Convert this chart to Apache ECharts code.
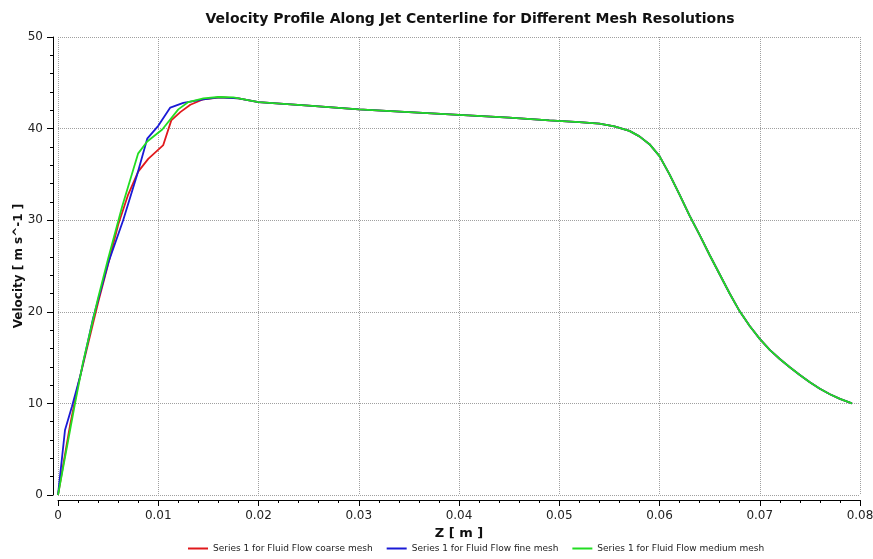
<!DOCTYPE html>
<html>
<head>
<meta charset="utf-8">
<script src="https://cdn.jsdelivr.net/npm/echarts@6/dist/echarts.min.js"></script>
<style>
  html, body { margin: 0; padding: 0; background: #ffffff; }
  #chart { width: 873px; height: 559px; }
</style>
</head>
<body>
<div id="chart"></div>
<script>
// series names
var seriesNames = [
  'Series 1 for Fluid Flow coarse mesh',
  'Series 1 for Fluid Flow fine mesh',
  'Series 1 for Fluid Flow medium mesh'
];

// Z [m], velocity [m s^-1]
var coarseHead = [
  [0, 0], [0.0012, 7.6], [0.002, 12.0], [0.003, 16.5], [0.004, 21.0], [0.005, 25.2],
  [0.006, 29.5], [0.007, 32.8], [0.008, 35.3], [0.009, 36.7], [0.0105, 38.2],
  [0.0113, 40.9], [0.0122, 41.8], [0.0132, 42.6], [0.0145, 43.2], [0.0162, 43.4],
  [0.018, 43.3]
];
var fineHead = [
  [0, 0], [0.0007, 7.1], [0.0014, 9.7], [0.0022, 12.9], [0.0035, 19.3], [0.005, 25.3],
  [0.0065, 30.0], [0.0079, 35.0], [0.0089, 38.9], [0.01, 40.3], [0.0112, 42.3],
  [0.0125, 42.8], [0.0145, 43.2], [0.016, 43.4], [0.018, 43.3]
];
var mediumHead = [
  [0, 0], [0.0017, 10.0], [0.0025, 14.5], [0.004, 21.5], [0.005, 25.8], [0.0064, 31.5],
  [0.008, 37.3], [0.0089, 38.6], [0.0104, 39.9], [0.012, 42.1], [0.013, 42.9],
  [0.0145, 43.3], [0.016, 43.45], [0.0175, 43.4]
];
// common part where the three curves lie on top of each other
var commonTail = [
  [0.02, 42.9], [0.025, 42.5], [0.03, 42.1], [0.035, 41.8], [0.04, 41.5], [0.045, 41.2],
  [0.049, 40.9], [0.052, 40.7], [0.054, 40.55], [0.0555, 40.25], [0.057, 39.75],
  [0.058, 39.15], [0.059, 38.3], [0.06, 37.0], [0.061, 35.0], [0.062, 32.8],
  [0.063, 30.5], [0.064, 28.4], [0.065, 26.2], [0.066, 24.1], [0.067, 22.0],
  [0.068, 20.05], [0.069, 18.45], [0.07, 17.05], [0.071, 15.85], [0.072, 14.85],
  [0.073, 13.95], [0.074, 13.1], [0.075, 12.3], [0.076, 11.6], [0.077, 11.0],
  [0.078, 10.5], [0.0792, 10.0]
];

var colors = ['#e0191c', '#1a1ad6', '#22dd22'];

var chart = echarts.init(document.getElementById('chart'));

function makeSeries(i, head) {
  return {
    name: seriesNames[i],
    type: 'line',
    data: head.concat(commonTail),
    showSymbol: false,
    symbol: 'none',
    lineStyle: { color: colors[i], width: 1.8 },
    itemStyle: { color: colors[i] },
    z: 2 + i
  };
}

var gridLine = { show: true, lineStyle: { color: '#a0a0a0', type: [1, 1], width: 1 } };

chart.setOption({
  animation: false,
  title: {
    text: 'Velocity Profile Along Jet Centerline for Different Mesh Resolutions',
    left: 465,
    textAlign: 'center',
    top: 7,
    textStyle: { fontFamily: 'DejaVu Sans', fontWeight: 'bold', fontSize: 14, color: '#111' }
  },
  legend: {
    bottom: 1,
    left: 183,
    itemWidth: 20,
    itemHeight: 2,
    itemGap: 14,
    icon: 'rect',
    textStyle: { fontFamily: 'DejaVu Sans', fontSize: 9, color: '#222' },
    data: seriesNames
  },
  grid: { left: 58, right: 13, top: 37, bottom: 64, containLabel: false, outerBoundsMode: 'none' },
  xAxis: {
    type: 'value',
    min: 0, max: 0.08, interval: 0.01,
    offset: 5,
    name: 'Z [ m ]',
    nameLocation: 'middle',
    nameGap: 27,
    nameTextStyle: { fontFamily: 'DejaVu Sans', fontWeight: 'bold', fontSize: 13, color: '#111' },
    axisLine: { show: true, onZero: false, lineStyle: { color: '#000', width: 1 } },
    axisTick: { show: true, inside: false, length: 6, lineStyle: { color: '#000' } },
    minorTick: { show: true, splitNumber: 5, length: 3, lineStyle: { color: '#000' } },
    axisLabel: { fontFamily: 'DejaVu Sans', fontSize: 12, color: '#222', margin: 10,
      formatter: function (v) { return v === 0 ? '0' : String(+v.toFixed(2)); } },
    splitLine: gridLine
  },
  yAxis: {
    type: 'value',
    min: 0, max: 50, interval: 10,
    offset: 5,
    name: 'Velocity [ m s^-1 ]',
    nameLocation: 'middle',
    nameRotate: 90,
    nameGap: 28,
    nameMoveOverlap: false,
    nameTextStyle: { fontFamily: 'DejaVu Sans', fontWeight: 'bold', fontSize: 12, color: '#111' },
    axisLine: { show: true, onZero: false, lineStyle: { color: '#000', width: 1 } },
    axisTick: { show: true, inside: false, length: 6, lineStyle: { color: '#000' } },
    minorTick: { show: true, splitNumber: 5, length: 3, lineStyle: { color: '#000' } },
    axisLabel: { fontFamily: 'DejaVu Sans', fontSize: 12, color: '#222', margin: 10 },
    splitLine: gridLine
  },
  series: [
    makeSeries(0, coarseHead),
    makeSeries(1, fineHead),
    makeSeries(2, mediumHead)
  ]
});
</script>
</body>
</html>
